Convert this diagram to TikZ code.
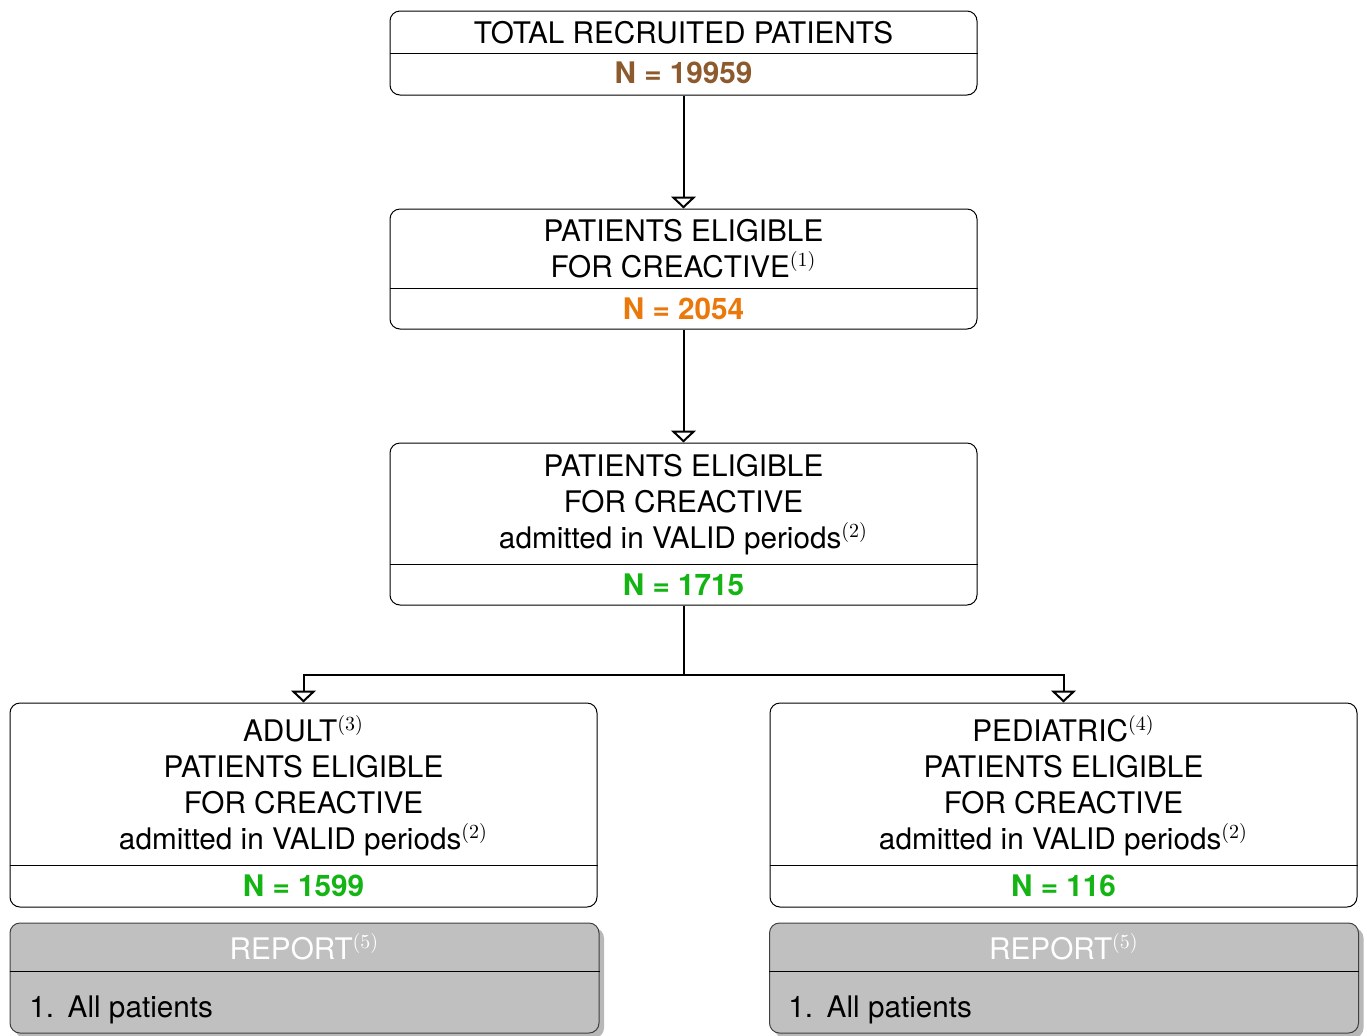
\documentclass[tikz,border=0pt]{standalone}
\usepackage[no-math]{fontspec}
\setmainfont{TeX Gyre Heros}
\usetikzlibrary{arrows.meta,shadows}
\definecolor{nbrown}{RGB}{140,90,45}
\definecolor{norange}{RGB}{235,120,10}
\definecolor{ngreen}{RGB}{20,180,20}
\definecolor{repgray}{RGB}{192,192,192}
\begin{document}
\begin{tikzpicture}[x=0.5pt,y=-0.5pt,font=\fontsize{14.85}{18}\selectfont,
  box/.style={draw, line width=0.5pt, rounded corners=5pt, fill=white, inner sep=0pt, minimum width=293.5pt},
  rep/.style={draw=black!75, line width=0.5pt, rounded corners=5pt, fill=repgray, inner sep=0pt,
     minimum width=294.5pt, minimum height=55pt,
     drop shadow={shadow xshift=2.5pt, shadow yshift=-2.5pt, fill=black!35, opacity=0.8}},
  txt/.style={anchor=base, inner sep=0pt},
  num/.style={anchor=base, inner sep=0pt, font=\fontsize{14.85}{18}\selectfont\bfseries},
  conn/.style={line width=1pt, -{Triangle[open, length=6pt, width=12.5pt]}},
  divl/.style={line width=0.5pt}]
\useasboundingbox (0,0) rectangle (1367,1035);

% box 1
\node[box, minimum height=42pt] (b1) at (683.5,53) {};
\draw[divl] (b1.west |- 0,53) -- (b1.east |- 0,53);
\node[txt] (b1a) at (683.5,43) {TOTAL RECRUITED PATIENTS};
\node[num, text=nbrown] (b1n) at (683.5,83) {N = 19959};

% box 2
\node[box, minimum height=60pt] (b2) at (683.5,269) {};
\draw[divl] (b2.west |- 0,288) -- (b2.east |- 0,288);
\node[txt] (b2a) at (683.5,241) {PATIENTS ELIGIBLE};
\node[txt] (b2b) at (683.5,277) {FOR CREACTIVE$^{(1)}$};
\node[num, text=norange] (b2n) at (683.5,319) {N = 2054};

% box 3
\node[box, minimum height=81pt] (b3) at (683.5,524) {};
\draw[divl] (b3.west |- 0,564) -- (b3.east |- 0,564);
\node[txt] (b3a) at (683.5,476) {PATIENTS ELIGIBLE};
\node[txt] (b3b) at (683.5,512) {FOR CREACTIVE};
\node[txt] (b3c) at (683.5,548) {admitted in VALID periods$^{(2)}$};
\node[num, text=ngreen] (b3n) at (683.5,595) {N = 1715};

% box 4 adult
\node[box, minimum height=102pt] (b4) at (303.5,805) {};
\draw[divl] (b4.west |- 0,865) -- (b4.east |- 0,865);
\node[txt] (b4a) at (303.5,741) {ADULT$^{(3)}$};
\node[txt] (b4b) at (303.5,777) {PATIENTS ELIGIBLE};
\node[txt] (b4c) at (303.5,813) {FOR CREACTIVE};
\node[txt] (b4d) at (303.5,849) {admitted in VALID periods$^{(2)}$};
\node[num, text=ngreen] (b4n) at (303.5,896) {N = 1599};

% box 5 pediatric
\node[box, minimum height=102pt] (b5) at (1063.5,805) {};
\draw[divl] (b5.west |- 0,865) -- (b5.east |- 0,865);
\node[txt] (b5a) at (1063.5,741) {PEDIATRIC$^{(4)}$};
\node[txt] (b5b) at (1063.5,777) {PATIENTS ELIGIBLE};
\node[txt] (b5c) at (1063.5,813) {FOR CREACTIVE};
\node[txt] (b5d) at (1063.5,849) {admitted in VALID periods$^{(2)}$};
\node[num, text=ngreen] (b5n) at (1063.5,896) {N = 116};

% report boxes
\node[rep] (r1) at (304.5,978) {};
\draw[divl] (r1.west |- 0,971) -- (r1.east |- 0,971);
\node[txt, text=white] (r1h) at (304.5,959) {REPORT$^{(5)}$};
\node[txt, anchor=base west] (r1i) at (29,1017) {1.\hspace{6.8pt}All patients};

\node[rep] (r2) at (1064,978) {};
\draw[divl] (r2.west |- 0,971) -- (r2.east |- 0,971);
\node[txt, text=white] (r2h) at (1064,959) {REPORT$^{(5)}$};
\node[txt, anchor=base west] (r2i) at (788,1017) {1.\hspace{6.8pt}All patients};

% connectors
\draw[conn] (b1) -- (b2);
\draw[conn] (b2) -- (b3);
\draw[conn] (b3.south) -- ++(0,69) -| (b4.north);
\draw[conn] (b3.south) -- ++(0,69) -| (b5.north);
\end{tikzpicture}
\end{document}
